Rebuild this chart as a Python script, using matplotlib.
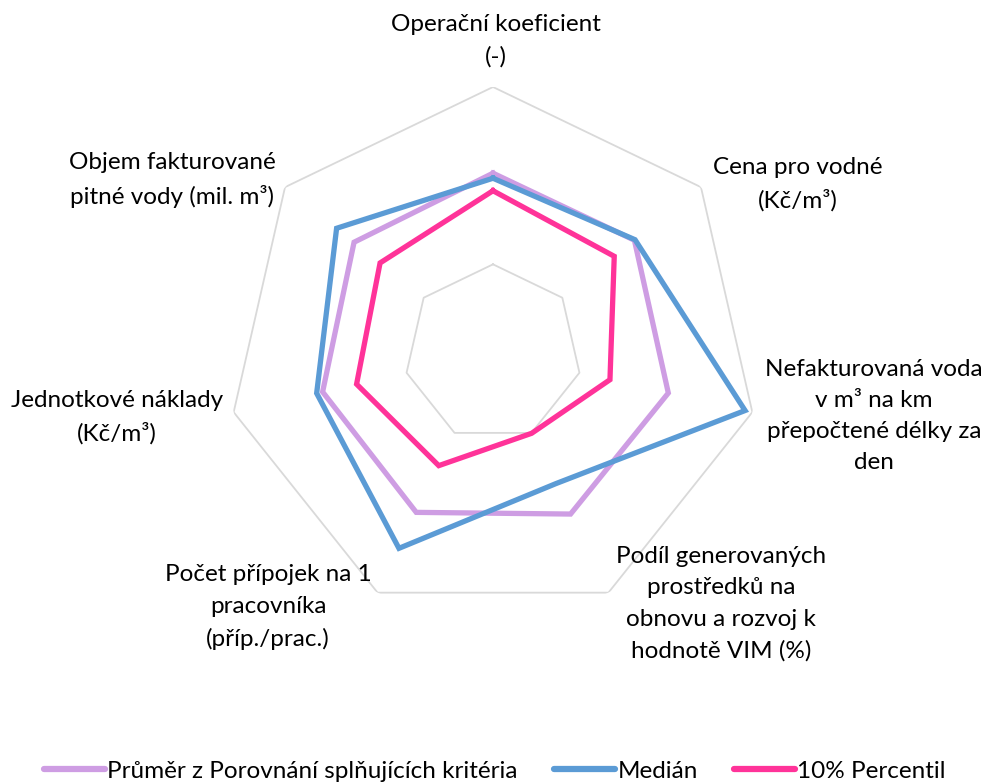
import numpy as np
import matplotlib
matplotlib.use("Agg")
import matplotlib.pyplot as plt

plt.rcParams['font.family'] = ['Lato', 'DejaVu Sans']

labels = [
    "Operační koeficient\n(-)",
    "Cena pro vodné\n(Kč/m³)",
    "Nefakturovaná voda\nv m³ na km\npřepočtené délky za\nden",
    "Podíl generovaných\nprostředků na\nobnovu a rozvoj k\nhodnotě VIM (%)",
    "Počet přípojek na 1\npracovníka\n(příp./prac.)",
    "Jednotkové náklady\n(Kč/m³)",
    "Objem fakturované\npitné vody (mil. m³)",
]
series_names = ["Průměr z Porovnání splňujících kritéria", "Medián", "10% Percentil"]
prumer = [0.676, 0.680, 0.676, 0.672, 0.665, 0.657, 0.668]
median = [0.657, 0.683, 0.972, 0.545, 0.815, 0.680, 0.752]
percentil = [0.610, 0.583, 0.451, 0.335, 0.470, 0.526, 0.543]
rings = [1 / 3, 1.0]

colors = ["#CE9DE3", "#5B9BD5", "#FF3399"]

# label centers in pixels (x, y of first line)
label_pos = [(496, 25), (798, 168), (874, 368), (721, 556), (268, 575), (117, 401), (172, 164)]
line_step = 32.0

W, H = 990, 782
fig = plt.figure(figsize=(W / 100, H / 100), dpi=100)
cx, cy, R = 493, 353, 266
ax = fig.add_axes([(cx - R) / W, (H - cy - R) / H, 2 * R / W, 2 * R / H], polar=True)
ax.set_theta_zero_location("N")
ax.set_theta_direction(-1)
ax.set_ylim(0, 1)
ax.axis("off")

n = len(labels)
ang = np.linspace(0, 2 * np.pi, n, endpoint=False)
ang_c = np.append(ang, ang[0])

for r in rings:
    ax.plot(ang_c, [r] * (n + 1), color="#D9D9D9", lw=1.3, zorder=1)

handles = []
for vals, col, name in zip([prumer, median, percentil], colors, series_names):
    v = np.append(vals, vals[0])
    h, = ax.plot(ang_c, v, color=col, lw=3.8, solid_joinstyle="miter", label=name, zorder=3)
    handles.append(h)

for lab, (x, y) in zip(labels, label_pos):
    k = lab.count("\n")
    yc = y + k * line_step / 2
    fig.text(x / W, 1 - yc / H, lab, ha="center", va="center", fontsize=17.5,
             linespacing=1.6, color="#000000")

leg = fig.legend(handles=handles, loc="center", bbox_to_anchor=(0.5, 1 - 771 / H), ncol=3,
                 frameon=False, fontsize=17.5, handlelength=2.5, columnspacing=1.5,
                 handletextpad=0.1)
for line in leg.get_lines():
    line.set_linewidth(4.5)
    line.set_solid_capstyle("round")

fig.savefig("out.png", dpi=100)
